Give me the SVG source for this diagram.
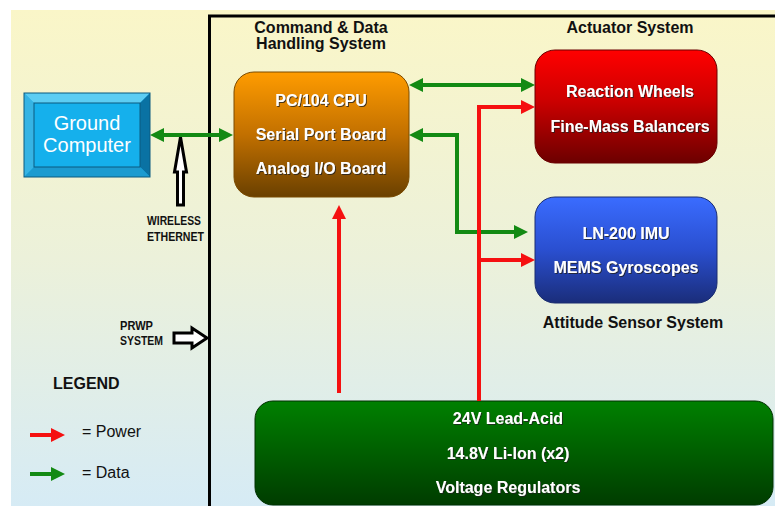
<svg xmlns="http://www.w3.org/2000/svg" width="775" height="506" viewBox="0 0 775 506">
<defs>
<linearGradient id="bg" x1="0" y1="0" x2="0" y2="1">
<stop offset="0" stop-color="#faf6c8"/>
<stop offset="0.5" stop-color="#ecf1da"/>
<stop offset="1" stop-color="#d6ebf5"/>
</linearGradient>
<linearGradient id="gCpu" x1="0" y1="0" x2="0" y2="1">
<stop offset="0" stop-color="#ff9c00"/>
<stop offset="0.5" stop-color="#c27000"/>
<stop offset="1" stop-color="#6a4000"/>
</linearGradient>
<linearGradient id="gAct" x1="0" y1="0" x2="0" y2="1">
<stop offset="0" stop-color="#ff0000"/>
<stop offset="0.45" stop-color="#cc0000"/>
<stop offset="1" stop-color="#6c0000"/>
</linearGradient>
<linearGradient id="gImu" x1="0" y1="0" x2="0" y2="1">
<stop offset="0" stop-color="#3a6cff"/>
<stop offset="0.5" stop-color="#2a4fd0"/>
<stop offset="1" stop-color="#1a2d7a"/>
</linearGradient>
<linearGradient id="gBat" x1="0" y1="0" x2="0" y2="1">
<stop offset="0" stop-color="#008000"/>
<stop offset="1" stop-color="#003c00"/>
</linearGradient>
<filter id="sh" x="-10%" y="-30%" width="120%" height="160%">
<feDropShadow dx="1" dy="1" stdDeviation="0.6" flood-color="#222" flood-opacity="0.8"/>
</filter>
<marker id="ahG" viewBox="0 0 14 14" markerWidth="14" markerHeight="14" refX="4" refY="7" orient="auto-start-reverse" markerUnits="userSpaceOnUse">
<path d="M0,0 L14,7 L0,14 z" fill="#138a13"/>
</marker>
<marker id="ahR" viewBox="0 0 14 14" markerWidth="14" markerHeight="14" refX="4" refY="7" orient="auto-start-reverse" markerUnits="userSpaceOnUse">
<path d="M0,0 L14,7 L0,14 z" fill="#f51010"/>
</marker>
</defs>
<style>
.t{font-family:"Liberation Sans",Arial,sans-serif;}
.title{font-size:16px;font-weight:bold;fill:#111;text-anchor:middle;}
.wt{font-size:16px;font-weight:bold;fill:#fff;text-anchor:middle;filter:url(#sh);}
.sm{font-size:12px;font-weight:bold;fill:#111;}
.lg{font-size:16px;fill:#111;}
.g{fill:none;stroke:#138a13;stroke-width:4;}
.r{fill:none;stroke:#f51010;stroke-width:4;}
.hollow{fill:#fff;stroke:#000;stroke-width:3;stroke-linejoin:miter;}
</style>
<rect x="0" y="0" width="775" height="506" fill="#fff"/>
<rect x="11" y="10" width="764" height="496" fill="url(#bg)"/>
<path d="M209.5,506 L209.5,16 L775,16" fill="none" stroke="#000" stroke-width="3"/>

<g id="ground-computer">
<rect x="24" y="93" width="126" height="84" fill="#15b0ec"/>
<polygon points="24,93 150,93 140,103 34,103" fill="#5ccdf3"/>
<polygon points="24,93 34,103 34,167 24,177" fill="#36b4e4"/>
<polygon points="150,93 150,177 140,167 140,103" fill="#0a72a3"/>
<polygon points="24,177 150,177 140,167 34,167" fill="#1c9bd0"/>
<rect x="24" y="93" width="126" height="84" fill="none" stroke="#0a5a80" stroke-width="1"/>
<rect x="34" y="103" width="106" height="64" fill="none" stroke="#0a5a80" stroke-width="1"/>
<text class="t" x="87" y="130" font-size="20" fill="#fff" text-anchor="middle">Ground</text>
<text class="t" x="87" y="152" font-size="20" fill="#fff" text-anchor="middle">Computer</text>
</g>

<g id="cdh">
<text class="t title" x="321" y="33">Command &amp; Data</text>
<text class="t title" x="321" y="49">Handling System</text>
<rect x="234" y="72" width="175" height="125" rx="20" fill="url(#gCpu)" stroke="#7a4a00" stroke-width="1"/>
<text class="t wt" x="321" y="106">PC/104 CPU</text>
<text class="t wt" x="321" y="140">Serial Port Board</text>
<text class="t wt" x="321" y="174">Analog I/O Board</text>
</g>

<g id="actuator">
<text class="t title" x="630" y="33">Actuator System</text>
<rect x="535" y="50" width="182" height="113" rx="20" fill="url(#gAct)" stroke="#6a0000" stroke-width="1"/>
<text class="t wt" x="630" y="97">Reaction Wheels</text>
<text class="t wt" x="630" y="132">Fine-Mass Balancers</text>
</g>

<g id="imu">
<rect x="535" y="197" width="182" height="106" rx="20" fill="url(#gImu)" stroke="#1a2d70" stroke-width="1"/>
<text class="t wt" x="626" y="239">LN-200 IMU</text>
<text class="t wt" x="626" y="273">MEMS Gyroscopes</text>
<text class="t title" x="633" y="328">Attitude Sensor System</text>
</g>

<g id="battery">
<rect x="255" y="401" width="518" height="104" rx="18" fill="url(#gBat)" stroke="#003000" stroke-width="1"/>
<text class="t wt" x="508" y="424">24V Lead-Acid</text>
<text class="t wt" x="508" y="459">14.8V Li-Ion (x2)</text>
<text class="t wt" x="508" y="493">Voltage Regulators</text>
</g>

<g id="wireless">
<polygon class="hollow" points="180.5,137 186.5,172 183.5,172 183.5,205 177.5,205 177.5,172 174.5,172"/>
<text class="t sm" x="147" y="225" textLength="54" lengthAdjust="spacingAndGlyphs">WIRELESS</text>
<text class="t sm" x="147" y="241" textLength="57" lengthAdjust="spacingAndGlyphs">ETHERNET</text>
</g>

<g id="prwp">
<polygon class="hollow" points="174,333 192,333 192,328 207,338 192,348 192,343 174,343"/>
<text class="t sm" x="120" y="330" textLength="33" lengthAdjust="spacingAndGlyphs">PRWP</text>
<text class="t sm" x="120" y="345" textLength="43" lengthAdjust="spacingAndGlyphs">SYSTEM</text>
</g>

<g id="legend">
<text class="t" x="53" y="389" font-size="16" font-weight="bold" fill="#111">LEGEND</text>
<path class="r" d="M30,435 L55,435" marker-end="url(#ahR)"/>
<text class="t lg" x="82" y="437">= Power</text>
<path class="g" d="M30,474 L55,474" marker-end="url(#ahG)"/>
<text class="t lg" x="82" y="478">= Data</text>
</g>

<g id="connectors">
<path class="g" d="M160,135 L223,135" marker-start="url(#ahG)" marker-end="url(#ahG)"/>
<path class="g" d="M419,85 L525,85" marker-start="url(#ahG)" marker-end="url(#ahG)"/>
<path class="g" d="M419,135 L457,135 L457,232 L518,232" marker-start="url(#ahG)" marker-end="url(#ahG)"/>
<path class="r" d="M479,401 L479,107 L525,107" marker-end="url(#ahR)"/>
<path class="r" d="M479,260 L525,260" marker-end="url(#ahR)"/>
<path class="r" d="M339,393 L339,215" marker-end="url(#ahR)"/>
</g>
</svg>
